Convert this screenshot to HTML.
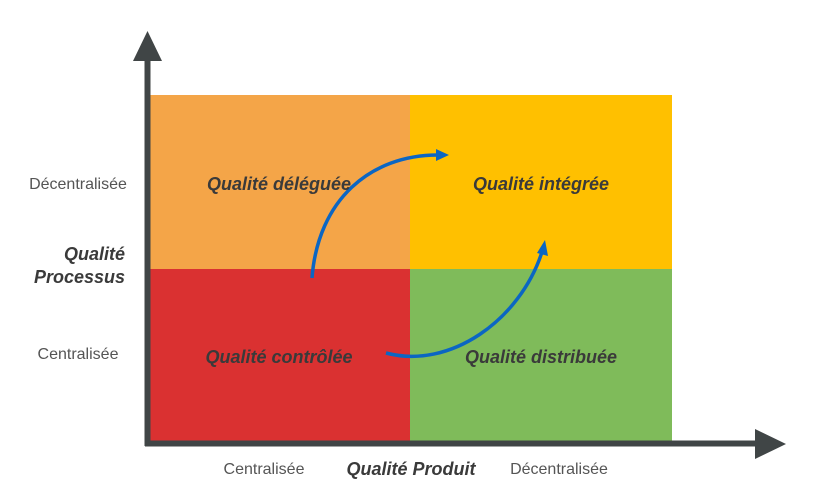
<!DOCTYPE html>
<html><head><meta charset="utf-8"><style>
body{margin:0;background:#fff;}
svg{display:block;}
text{font-family:"Liberation Sans",sans-serif;}
</style></head><body>
<svg width="818" height="493" viewBox="0 0 818 493">
<rect x="150" y="95" width="260" height="174" fill="#F4A548"/>
<rect x="410" y="95" width="262" height="174" fill="#FFC000"/>
<rect x="150" y="269" width="260" height="172" fill="#DA3131"/>
<rect x="410" y="269" width="262" height="172" fill="#7FBB5A"/>
<line x1="147.5" y1="55" x2="147.5" y2="446" stroke="#404546" stroke-width="6"/>
<polygon points="147.5,31 133,61 162,61" fill="#404546"/>
<line x1="145" y1="443.5" x2="760" y2="443.5" stroke="#404546" stroke-width="6"/>
<polygon points="786,444 755,429 755,459" fill="#404546"/>
<path d="M312,278 C318,200 370,155 438,155" fill="none" stroke="#0B66C3" stroke-width="3.5"/>
<polygon points="449,155 436,149 436,161" fill="#0B66C3"/>
<path d="M386,353 C450,370 520,320 542,252" fill="none" stroke="#0B66C3" stroke-width="3.5"/>
<polygon points="545,240 537,253 548,256" fill="#0B66C3"/>
<g font-weight="bold" font-style="italic" font-size="18" fill="#3a3a3a" text-anchor="middle">
<text x="279" y="190">Qualité déléguée</text>
<text x="541" y="190">Qualité intégrée</text>
<text x="279" y="363">Qualité contrôlée</text>
<text x="541" y="363">Qualité distribuée</text>
<text x="411" y="475">Qualité Produit</text>
<text x="125" y="260" text-anchor="end">Qualité</text>
<text x="125" y="283" text-anchor="end">Processus</text>
</g>
<g font-size="16" fill="#555" text-anchor="middle">
<text x="78" y="189">Décentralisée</text>
<text x="78" y="359">Centralisée</text>
<text x="264" y="474">Centralisée</text>
<text x="559" y="474">Décentralisée</text>
</g>
</svg>
</body></html>
